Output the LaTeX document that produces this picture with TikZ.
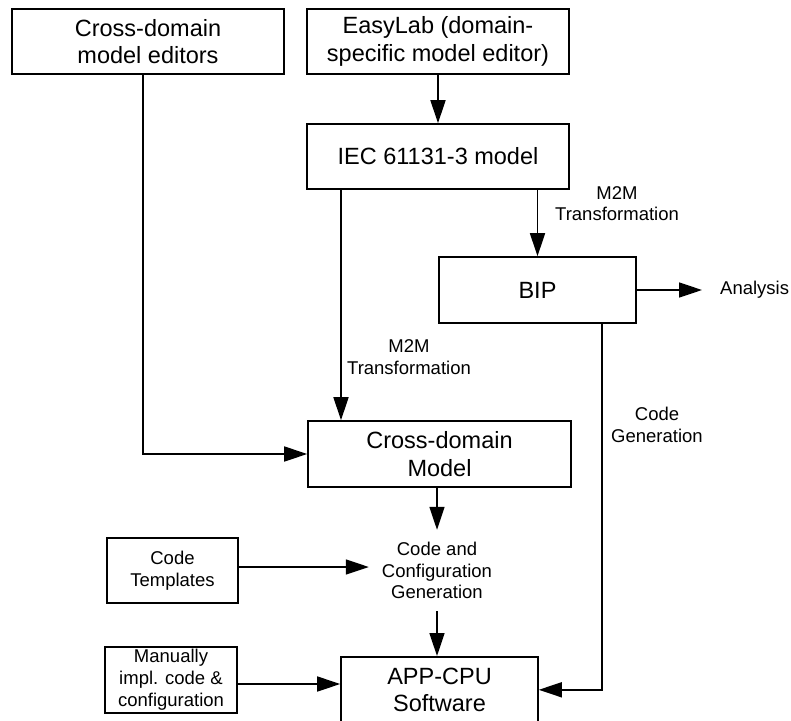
\documentclass[tikz,border=0pt]{standalone}
\usepackage{fontspec}
\setmainfont{Liberation Sans}
\usetikzlibrary{arrows.meta}
\tikzset{
  box/.style={draw, line width=1.6pt, align=center, inner sep=0pt,
    font=\fontsize{23.5}{27.5}\selectfont},
  smallbox/.style={draw, line width=1.6pt, align=center, inner sep=0pt,
    font=\fontsize{18.5}{22}\selectfont},
  lbl/.style={align=center, inner sep=0pt, font=\fontsize{18.5}{21.5}\selectfont},
  arr/.style={line width=1.6pt, -{Triangle[length=23pt,width=15pt]}}
}
\begin{document}
\begin{tikzpicture}[x=1pt,y=-1pt]
\useasboundingbox (0,0) rectangle (791,720);

% model editors
\node[box, minimum width=272, minimum height=65] (editors) at (148,41.5)
  {Cross-domain\\model editors};
\node[box, minimum width=262, minimum height=65] (easylab) at (438,41.5)
  {EasyLab (domain-\\specific model editor)};

% intermediate models
\node[box, minimum width=262, minimum height=65] (iec) at (438,156.5)
  {IEC 61131-3 model};
\node[box, minimum width=197, minimum height=66] (bip) at (537.5,290) {BIP};
\node[lbl, anchor=west] (analysis) at (720,290) {Analysis};
\node[box, minimum width=263, minimum height=66] (cdm) at (439.5,454)
  {Cross-domain\\Model};

% generation inputs
\node[smallbox, minimum width=131, minimum height=65] (templates) at (172.5,570.5)
  {Code\\Templates};
\node[lbl, minimum width=136, minimum height=81] (codegen) at (437,570.5)
  {Code and\\Configuration\\Generation};
\node[smallbox, minimum width=132, minimum height=66] (manual) at (171,680)
  {Manually\\impl. code \&\\configuration};
\node[box, minimum width=197, minimum height=66, anchor=north] (app) at (439.5,656)
  {APP-CPU\\Software};

% transformation labels
\node[lbl] (m2mA) at (617,203.5) {M2M\\Transformation};
\node[lbl] (m2mB) at (409,357) {M2M\\Transformation};
\node[lbl] (cg) at (657,425) {Code\\Generation};

% routing columns and rows
\coordinate (colEditors) at (143,0);
\coordinate (colIec) at (341,0);
\coordinate (colBip) at (602,0);
\coordinate (rowTemplates) at (0,567);
\coordinate (rowManual) at (0,684);

% connectors
\draw[arr] (easylab) -- (iec);
\draw[arr] (bip.north |- iec.south) -- (bip.north);
\draw[arr] (iec.south -| colIec) -- (cdm.north -| colIec);
\draw[arr] (editors.south -| colEditors) |- (cdm.west);
\draw[arr, shorten >=18pt] (bip.east) -- (analysis.west);
\draw[arr] (codegen.north |- cdm.south) -- (codegen.north);
\draw[arr] (templates.east |- rowTemplates) -- (codegen.west |- rowTemplates);
\draw[arr] (codegen.south) -- (codegen.south |- app.north);
\draw[arr] (manual.east |- rowManual) -- (app.west |- rowManual);
\draw[arr] (bip.south -| colBip) |- (app.east);
\end{tikzpicture}
\end{document}
